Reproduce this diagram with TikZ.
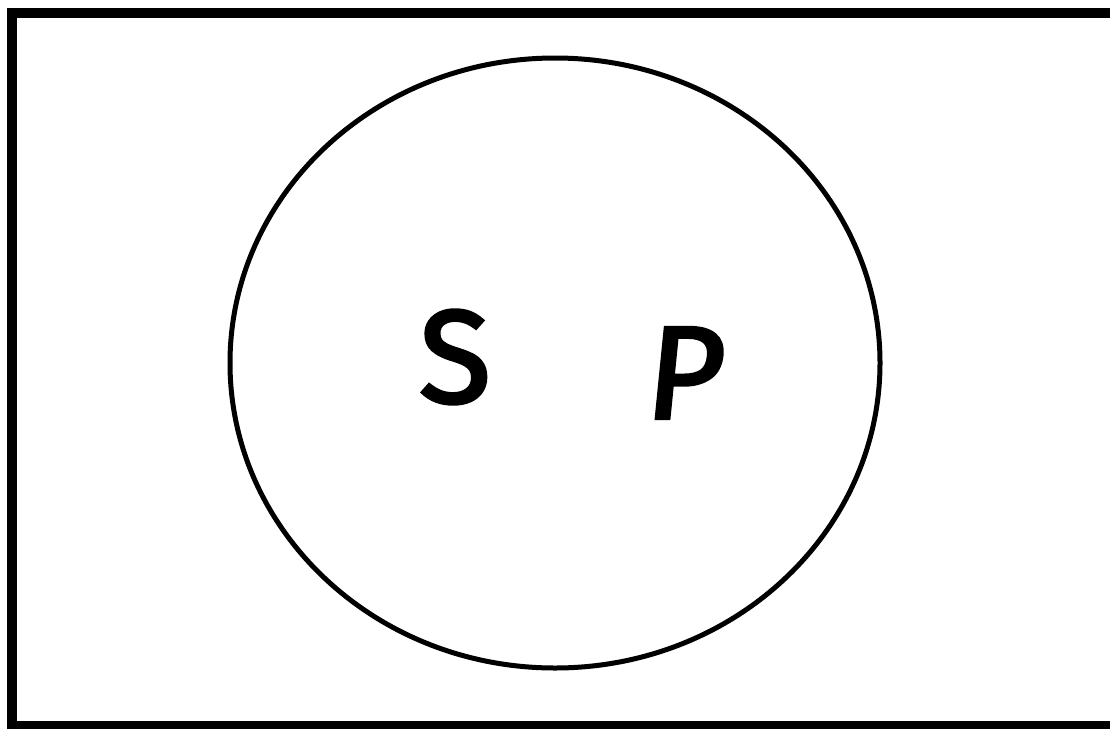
\documentclass[tikz,border=0pt]{standalone}
\usetikzlibrary{shapes.geometric}
\usepackage{fontspec}
\setmainfont{Fira Sans}
\newfontfamily\letterfont{Fira Sans}[FakeBold=2.5]
\begin{document}
\begin{tikzpicture}[x=1pt,y=-1pt,
  frame/.style={line width=10pt,line join=miter},
  setshape/.style={draw,ellipse,line width=5pt,minimum width=650pt,minimum height=610pt,inner sep=0pt},
  letter/.style={font=\letterfont\fontsize{132}{132}\selectfont,inner sep=0pt}]
\useasboundingbox (0,0) rectangle (1110,728);
\fill[white] (0,0) rectangle (1110,728);
\draw[frame] (1125,13) -- (12,13) -- (12,726) -- (1125,726);
\node[setshape] (circ) at (555,363) {};
\node[letter] (S) at (455,357) {S};
\node[letter,xslant=0.1] (P) at (686,373) {P};
\end{tikzpicture}
\end{document}
